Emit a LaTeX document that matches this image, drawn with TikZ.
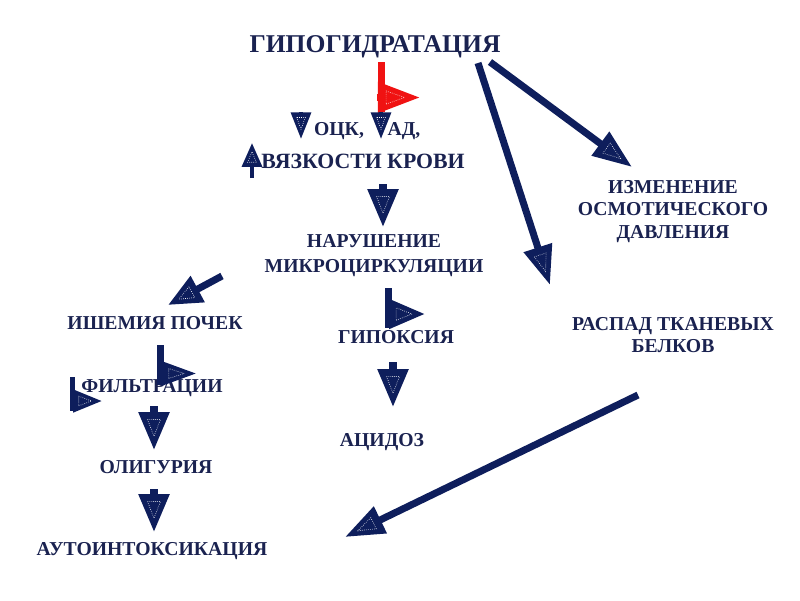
\documentclass[tikz,border=0pt]{standalone}
\usepackage{fontspec}
\setmainfont{Liberation Serif}
\usetikzlibrary{arrows.meta, decorations.markings}
\definecolor{navy}{RGB}{14,30,92}
\definecolor{ink}{RGB}{26,34,80}
\definecolor{alarm}{RGB}{240,18,18}
\tikzstyle{lbl} = [text=ink, font=\bfseries\fontsize{14}{17}\selectfont, inner sep=0pt, anchor=base]
\tikzstyle{stem} = [draw=navy, line width=5pt]
\tikzset{
  hd/.style n args={3}{draw=navy, line width=#1, -{Triangle[length=#2,width=#3]},
    postaction={decorate, decoration={markings, mark=at position -0.1pt with
      {\draw[white, densely dotted, line width=.45pt] (-0.8*#2,-0.22*#3) -- (-0.36*#2,0) -- (-0.8*#2,0.22*#3) -- cycle;}}}},
  big/.style={hd={5pt}{28pt}{20pt}}
}

\begin{document}
\begin{tikzpicture}[x=0.025cm, y=-0.025cm]
  \useasboundingbox[fill=white] (0,0) rectangle (800,600);

  \node[lbl, font=\bfseries\fontsize{18.2}{20}\selectfont] (hyp) at (375,52) {ГИПОГИДРАТАЦИЯ};
  \node[lbl] (ock) at (339,135) {ОЦК,};
  \node[lbl] (ad) at (404,135) {АД,};
  \node[lbl, font=\bfseries\fontsize{15.5}{18}\selectfont] (visc) at (363,168) {ВЯЗКОСТИ КРОВИ};
  \node[lbl] (nar) at (374,247) {НАРУШЕНИЕ};
  \node[lbl] (micro) at (374,272) {МИКРОЦИРКУЛЯЦИИ};
  \node[lbl] (hypox) at (396,343) {ГИПОКСИЯ};
  \node[lbl] (acid) at (382,446) {АЦИДОЗ};
  \node[lbl] (isch) at (155,329) {ИШЕМИЯ ПОЧЕК};
  \node[lbl] (filt) at (152,392) {ФИЛЬТРАЦИИ};
  \node[lbl] (olig) at (156,473) {ОЛИГУРИЯ};
  \node[lbl] (auto) at (152,555) {АУТОИНТОКСИКАЦИЯ};
  \node[lbl] (osm1) at (673,193) {ИЗМЕНЕНИЕ};
  \node[lbl] (osm2) at (673,215) {ОСМОТИЧЕСКОГО};
  \node[lbl] (osm3) at (673,238) {ДАВЛЕНИЯ};
  \node[lbl] (prot1) at (673,330) {РАСПАД ТКАНЕВЫХ};
  \node[lbl] (prot2) at (673,352) {БЕЛКОВ};

  \coordinate (h1) at (490,62);
  \coordinate (h2) at (478,63);
  \coordinate (osm) at (632,167);
  \coordinate (prot) at (550,285);
  \coordinate (prot3) at (638,395);
  \coordinate (auto1) at (345,537);
  \coordinate (mc) at (222,276);
  \coordinate (isch1) at (168,305);

  \draw[stem, draw=alarm] (381.5,62) -- (381.5,112);
  \draw[hd={5pt}{30pt}{21pt}, draw=alarm] (377,97.5) -- (420,97.5);
  \draw[hd={3pt}{19pt}{14pt}] (301,112) -- (301,139);
  \draw[hd={3pt}{19pt}{14pt}] (381,112) -- (381,139);
  \draw[hd={3pt}{17pt}{14pt}] (252,178) -- (252,143);
  \draw[hd={5pt}{27pt}{21pt}] (383,184) -- (383,227);
  \draw[stem] (388.5,288) -- (388.5,328);
  \draw[hd={5pt}{25.5pt}{20pt}] (389,314) -- (425,314);
  \draw[hd={5pt}{27pt}{21pt}] (393,362) -- (393,407);
  \draw[stem] (160.5,345) -- (160.5,385);
  \draw[hd={5pt}{25pt}{16pt}] (161,373.5) -- (197,373.5);
  \draw[stem, line width=3.5pt] (72.5,377) -- (72.5,411);
  \draw[hd={3.5pt}{20.5pt}{15.5pt}] (73,401) -- (102,401);
  \draw[hd={5pt}{27pt}{21pt}] (154,406) -- (154,450);
  \draw[hd={5pt}{27pt}{21pt}] (154,489) -- (154,532);

  \draw[big] (h1) -- (osm);
  \draw[big] (h2) -- (prot);
  \draw[hd={5pt}{24pt}{20pt}] (mc) -- (isch1);
  \draw[big] (prot3) -- (auto1);
\end{tikzpicture}
\end{document}
